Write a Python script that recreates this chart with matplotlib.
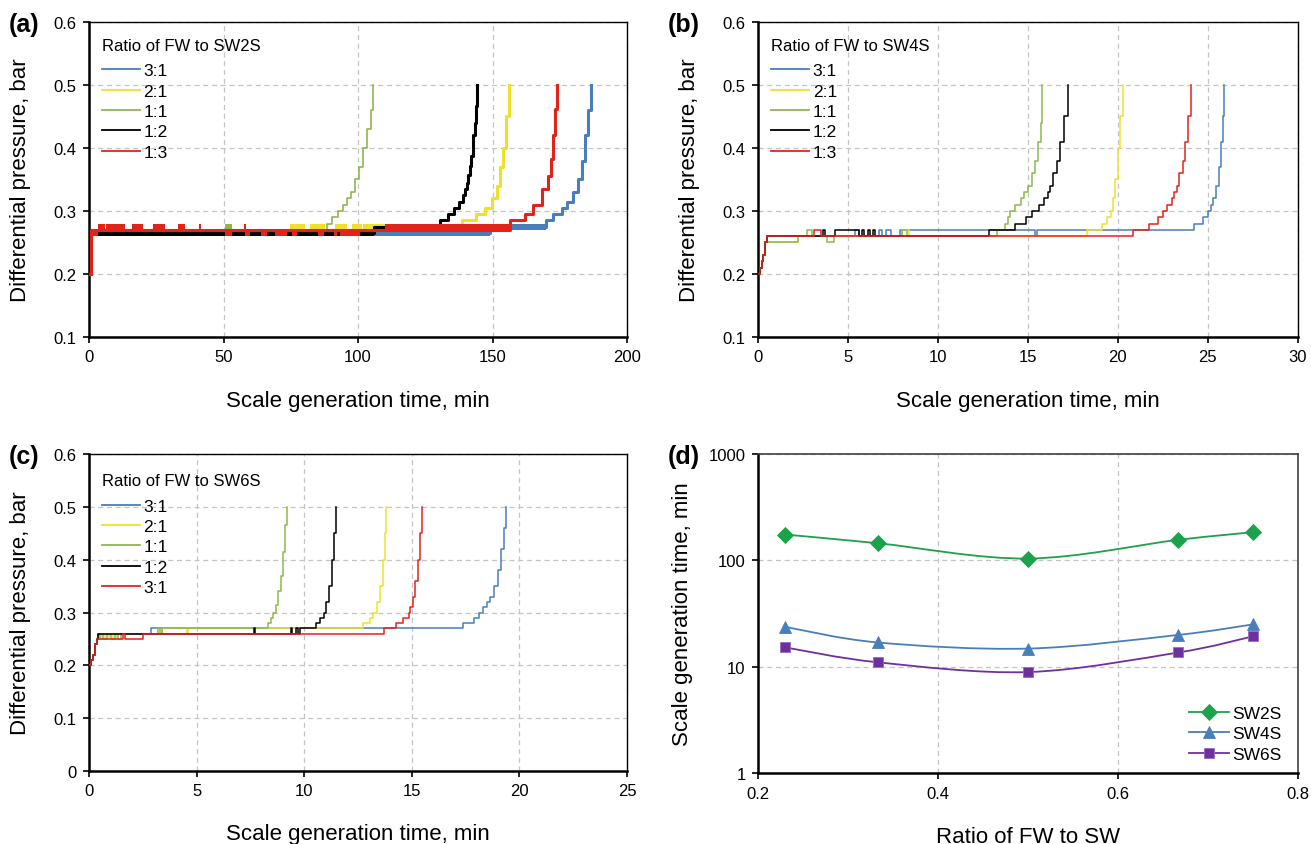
import numpy as np
import matplotlib
matplotlib.use('Agg')
import matplotlib.pyplot as plt
from matplotlib.lines import Line2D
from matplotlib.path import Path
from matplotlib.patches import PathPatch
from matplotlib.ticker import FuncFormatter, NullLocator

plt.rcParams['font.family'] = ['Liberation Sans', 'DejaVu Sans']

# ---- panel (a): FW : SW2S, time in min, pressure in bar ----
a_t_31 = [0, 0.8, 149, 170, 172.5, 175.8, 177.7, 180.0, 181.8, 183.1, 184.4, 185.4, 186.5]
a_p_31 = [0.2, 0.265, 0.275, 0.285, 0.295, 0.305, 0.315, 0.33, 0.35, 0.38, 0.42, 0.46, 0.50]
a_t_21 = [0, 0.8, 74, 138.5, 144.0, 147.2, 149.7, 151.5, 152.8, 154.0, 155.0, 156.2]
a_p_21 = [0.2, 0.265, 0.27, 0.285, 0.295, 0.305, 0.32, 0.34, 0.37, 0.40, 0.45, 0.50]
a_t_11 = [0, 0.8, 88.5, 90.5, 92.5, 94.5, 96.0, 97.5, 99.0, 100.5, 102.0, 103.5, 104.7, 105.6]
a_p_11 = [0.2, 0.265, 0.28, 0.29, 0.30, 0.31, 0.32, 0.33, 0.35, 0.37, 0.40, 0.43, 0.46, 0.50]
a_t_12 = [0, 0.8, 106, 130.5, 133.6, 135.7, 137.7, 138.9, 139.8, 140.4, 141.0, 141.6, 142.1,
          142.6, 142.9, 143.4, 143.9, 144.3]
a_p_12 = [0.2, 0.265, 0.275, 0.285, 0.295, 0.305, 0.315, 0.325, 0.335, 0.345, 0.357, 0.372,
          0.387, 0.404, 0.42, 0.44, 0.467, 0.50]
a_t_13 = [0, 0.8, 156.5, 162.0, 165.0, 168.3, 170.7, 171.6, 172.4, 173.2, 174.1]
a_p_13 = [0.2, 0.27, 0.285, 0.295, 0.31, 0.335, 0.356, 0.383, 0.42, 0.462, 0.50]

# flicker bands on the plateau (start, end) between 0.26-0.27 (lo) and 0.27-0.28 (hi)
a_band_31_lo = [(60, 149)]
a_band_31_hi = [(149, 170)]
a_band_21_hi = [(74.7, 80.3), (82.2, 87.7), (91.4, 96.0), (97.8, 101.5), (102.0, 110.0)]
a_band_11_hi = [(50.5, 53.0)]
a_band_12_lo = [(0.8, 106)]
a_band_13_hi = [(3.3, 6.0), (6.3, 13.4), (16.0, 20.0), (23.8, 28.2), (33.0, 35.7),
                (41.0, 41.8), (57.6, 58.4), (110, 156.5)]
a_band_13_lo = [(0.8, 3.4), (50.5, 53.0), (58.0, 60.0), (64.0, 66.0), (69.0, 73.5),
                (75.4, 77.3), (85.3, 87.2), (90.9, 92.2), (93.4, 100.8)]

# ---- panel (b): FW : SW4S ----
b_t_31 = [0, 0.1, 0.2, 0.3, 0.4, 0.5, 5.4, 5.6, 6.7, 6.9, 7.1, 7.4, 7.9, 15.4, 15.5,
          24.2, 24.7, 25.0, 25.15, 25.3, 25.45, 25.6, 25.72, 25.82, 25.92]
b_p_31 = [0.2, 0.21, 0.22, 0.23, 0.25, 0.26, 0.27, 0.26, 0.27, 0.26, 0.27, 0.26, 0.27, 0.26, 0.27,
          0.28, 0.29, 0.30, 0.31, 0.32, 0.34, 0.37, 0.41, 0.45, 0.50]
b_t_21 = [0, 0.1, 0.2, 0.3, 0.4, 2.2, 8.0, 8.4, 18.3, 19.1, 19.4, 19.6, 19.75, 19.85, 19.98,
          20.1, 20.3]
b_p_21 = [0.2, 0.21, 0.22, 0.23, 0.25, 0.26, 0.27, 0.26, 0.27, 0.28, 0.29, 0.30, 0.32, 0.35, 0.40,
          0.45, 0.50]
b_t_11 = [0, 0.1, 0.2, 0.3, 0.4, 2.2, 2.7, 3.0, 3.85, 4.2, 8.0, 8.3, 13.3, 13.7, 13.9, 14.0,
          14.3, 14.6, 14.8, 15.0, 15.2, 15.4, 15.55, 15.7, 15.8]
b_p_11 = [0.2, 0.21, 0.22, 0.23, 0.25, 0.26, 0.27, 0.26, 0.25, 0.26, 0.27, 0.26, 0.27, 0.28, 0.29,
          0.30, 0.31, 0.32, 0.33, 0.34, 0.36, 0.38, 0.41, 0.44, 0.50]
b_t_12 = [0, 0.1, 0.2, 0.3, 0.4, 0.5, 3.6, 3.7, 4.25, 5.6, 5.8, 5.9, 6.1, 6.2, 6.4, 6.5, 12.85,
          14.3, 14.9, 15.2, 15.6, 15.9, 16.1, 16.25, 16.4, 16.6, 16.8, 17.0, 17.25]
b_p_12 = [0.2, 0.21, 0.22, 0.23, 0.25, 0.26, 0.27, 0.26, 0.27, 0.26, 0.27, 0.26, 0.27, 0.26, 0.27,
          0.26, 0.27, 0.28, 0.29, 0.30, 0.31, 0.32, 0.33, 0.34, 0.36, 0.38, 0.41, 0.45, 0.50]
b_t_13 = [0, 0.1, 0.2, 0.3, 0.4, 0.5, 3.1, 3.5, 20.85, 21.7, 22.2, 22.5, 22.7, 23.0, 23.1,
          23.3, 23.4, 23.6, 23.7, 23.9, 24.05]
b_p_13 = [0.2, 0.21, 0.22, 0.23, 0.25, 0.26, 0.27, 0.26, 0.27, 0.28, 0.29, 0.30, 0.31, 0.32, 0.33,
          0.34, 0.36, 0.38, 0.41, 0.45, 0.50]

# ---- panel (c): FW : SW6S ----
c_t_31 = [0, 0.1, 0.2, 0.3, 0.38, 0.42, 2.9, 17.4, 17.9, 18.1, 18.3, 18.5, 18.65, 18.8, 19.0,
          19.15, 19.28, 19.37]
c_p_31 = [0.2, 0.21, 0.22, 0.24, 0.25, 0.26, 0.27, 0.28, 0.29, 0.30, 0.31, 0.32, 0.33, 0.35, 0.38,
          0.42, 0.46, 0.50]
c_t_21 = [0, 0.1, 0.2, 0.3, 0.38, 0.6, 0.75, 0.95, 1.1, 1.3, 3.4, 4.55, 4.6, 12.75, 13.05,
          13.2, 13.38, 13.5, 13.65, 13.73, 13.82]
c_p_21 = [0.2, 0.21, 0.22, 0.24, 0.25, 0.26, 0.25, 0.26, 0.25, 0.26, 0.27, 0.26, 0.27, 0.28, 0.29,
          0.30, 0.32, 0.35, 0.40, 0.45, 0.50]
c_t_11 = [0, 0.1, 0.2, 0.3, 0.38, 0.5, 0.65, 0.85, 1.0, 1.2, 1.35, 1.5, 3.2, 3.3, 3.4, 8.3,
          8.45, 8.57, 8.67, 8.8, 8.9, 9.0, 9.1, 9.18]
c_p_11 = [0.2, 0.21, 0.22, 0.24, 0.25, 0.26, 0.25, 0.26, 0.25, 0.26, 0.25, 0.26, 0.27, 0.26, 0.27,
          0.28, 0.29, 0.30, 0.315, 0.34, 0.37, 0.415, 0.465, 0.50]
c_t_12 = [0, 0.1, 0.2, 0.3, 0.38, 0.42, 7.66, 7.7, 9.37, 9.45, 9.6, 9.7, 9.8, 10.53, 10.73,
          10.9, 11.03, 11.16, 11.28, 11.38, 11.48]
c_p_12 = [0.2, 0.21, 0.22, 0.24, 0.25, 0.26, 0.27, 0.26, 0.27, 0.26, 0.27, 0.26, 0.27, 0.28, 0.29,
          0.30, 0.32, 0.35, 0.40, 0.45, 0.50]
c_t_13 = [0, 0.1, 0.2, 0.3, 0.38, 1.6, 1.65, 2.5, 13.7, 14.26, 14.6, 14.85, 14.93, 15.06, 15.17,
          15.3, 15.37, 15.47]
c_p_13 = [0.2, 0.21, 0.22, 0.24, 0.25, 0.26, 0.25, 0.26, 0.27, 0.28, 0.29, 0.30, 0.31, 0.33, 0.36,
          0.40, 0.45, 0.50]

# ---- panel (d): scale generation time vs ratio ----
d_ratio = [0.23, 0.333, 0.5, 0.667, 0.75]
d_sw2s = [175, 145, 104, 156, 184]
d_sw4s = [23.7, 16.9, 14.8, 19.9, 25.0]
d_sw6s = [15.2, 11.0, 8.9, 13.6, 19.3]

labels_abc = ['3:1', '2:1', '1:1', '1:2', '1:3']
labels_c = ['3:1', '2:1', '1:1', '1:2', '3:1']
col_blue = '#4a7ebb'
col_yellow = '#efe12a'
col_green = '#8db84e'
col_black = '#000000'
col_red = '#e2231a'
line_cols = [col_blue, col_yellow, col_green, col_black, col_red]

fmt = FuncFormatter(lambda v, _: f'{round(v, 3):g}')


def style_axes(ax, xlim, xticks, ylim, yticks):
    ax.set_xlim(xlim)
    ax.set_ylim(ylim)
    ax.set_xticks(xticks)
    ax.set_yticks(yticks)
    ax.xaxis.set_major_formatter(fmt)
    ax.yaxis.set_major_formatter(fmt)
    ax.grid(True, color='#c4c4c4', ls=(0, (4, 3)), lw=0.9)
    ax.set_axisbelow(True)
    for s in ['left', 'bottom']:
        ax.spines[s].set_linewidth(1.8)
    for s in ['top', 'right']:
        ax.spines[s].set_linewidth(1.0)
    ax.tick_params(direction='out', length=4, width=1.2, labelsize=12, pad=5)


def step_legend(ax, title, labels, top):
    handles = [Line2D([], [], color=c, lw=1.3) for c in line_cols]
    leg = ax.legend(handles, labels, title=title, loc='upper left', bbox_to_anchor=(0.024, top),
                    frameon=False, fontsize=12.5, title_fontsize=12, handlelength=2.2,
                    handletextpad=0.2, labelspacing=0.3, borderaxespad=0, borderpad=0,
                    alignment='left')
    # a bit more room between the title and the first entry
    leg._legend_box.sep = 7.5


def add_bands(ax, bands, level, color, z):
    ax.broken_barh([(s, e - s) for s, e in bands], (level, 0.01), facecolors=color,
                   edgecolor='none', zorder=z)


fig = plt.figure(figsize=(13.11, 8.45), dpi=100)
ax_a = fig.add_axes([0.0679, 0.600, 0.4104, 0.3728])
ax_b = fig.add_axes([0.5782, 0.600, 0.4118, 0.3728])
ax_c = fig.add_axes([0.0679, 0.0864, 0.4104, 0.3751])
ax_d = fig.add_axes([0.5782, 0.0840, 0.4118, 0.3775])

# (a)
a_series = [(a_t_31, a_p_31, 2.2), (a_t_21, a_p_21, 2.2), (a_t_11, a_p_11, 1.2),
            (a_t_12, a_p_12, 2.2), (a_t_13, a_p_13, 2.2)]
for i, (t, p, w) in enumerate(a_series):
    ax_a.plot(t, p, drawstyle='steps-post', color=line_cols[i], lw=w, zorder=2 + i)
add_bands(ax_a, a_band_31_lo, 0.26, col_blue, 2)
add_bands(ax_a, a_band_31_hi, 0.27, col_blue, 2)
add_bands(ax_a, a_band_21_hi, 0.27, col_yellow, 3)
add_bands(ax_a, a_band_11_hi, 0.27, col_green, 4)
add_bands(ax_a, a_band_12_lo, 0.26, col_black, 5)
add_bands(ax_a, a_band_13_hi, 0.27, col_red, 6)
add_bands(ax_a, a_band_13_lo, 0.26, col_red, 6)
style_axes(ax_a, (0, 200), np.arange(0, 201, 50), (0.1, 0.6), np.arange(0.1, 0.61, 0.1))
step_legend(ax_a, 'Ratio of FW to SW2S', labels_abc, 0.95)

# (b)
b_series = [(b_t_31, b_p_31), (b_t_21, b_p_21), (b_t_11, b_p_11), (b_t_12, b_p_12), (b_t_13, b_p_13)]
for i, (t, p) in enumerate(b_series):
    ax_b.plot(t, p, drawstyle='steps-post', color=line_cols[i], lw=1.1, zorder=2 + i)
style_axes(ax_b, (0, 30), np.arange(0, 31, 5), (0.1, 0.6), np.arange(0.1, 0.61, 0.1))
step_legend(ax_b, 'Ratio of FW to SW4S', labels_abc, 0.95)

# (c)
c_series = [(c_t_31, c_p_31), (c_t_21, c_p_21), (c_t_11, c_p_11), (c_t_12, c_p_12), (c_t_13, c_p_13)]
for i, (t, p) in enumerate(c_series):
    ax_c.plot(t, p, drawstyle='steps-post', color=line_cols[i], lw=1.1, zorder=2 + i)
style_axes(ax_c, (0, 25), np.arange(0, 26, 5), (0, 0.6), np.arange(0, 0.61, 0.1))
step_legend(ax_c, 'Ratio of FW to SW6S', labels_c, 0.94)

for ax in (ax_a, ax_b, ax_c):
    ax.set_xlabel('Scale generation time, min', fontsize=16, labelpad=18)
    ax.set_ylabel('Differential pressure, bar', fontsize=16)
    ax.yaxis.set_label_coords(-0.108, 0.5)


# (d) smoothed lines as Bezier paths through the points (in log space)
def smooth_path(x, y):
    px = np.asarray(x, float)
    py = np.log10(np.asarray(y, float))
    n = len(px)
    verts = [(px[0], py[0])]
    codes = [Path.MOVETO]
    for i in range(n - 1):
        i0 = max(i - 1, 0)
        i3 = min(i + 2, n - 1)
        c1 = (px[i] + (px[i + 1] - px[i0]) / 6, py[i] + (py[i + 1] - py[i0]) / 6)
        c2 = (px[i + 1] - (px[i3] - px[i]) / 6, py[i + 1] - (py[i3] - py[i]) / 6)
        verts += [c1, c2, (px[i + 1], py[i + 1])]
        codes += [Path.CURVE4] * 3
    return Path([(vx, 10 ** vy) for vx, vy in verts], codes)


ax_d.set_yscale('log')
d_series = [(d_sw2s, '#1ba24a', '#1ba24a', 'D', 8, 'SW2S'),
            (d_sw4s, '#4a7ebb', '#4a7ebb', '^', 8.5, 'SW4S'),
            (d_sw6s, '#6f2f9f', '#9a6cc0', 's', 7.5, 'SW6S')]
d_handles = []
for vals, c, ec, m, ms, lab in d_series:
    ax_d.add_patch(PathPatch(smooth_path(d_ratio, vals), fc='none', ec=c, lw=1.3, zorder=3))
    ax_d.plot(d_ratio, vals, ls='none', marker=m, ms=ms, color=c, mec=ec, mew=0.6, zorder=4)
    d_handles.append(Line2D([], [], color=c, lw=1.3, marker=m, ms=ms, mec=ec, mew=0.6))
ax_d.set_xlim(0.2, 0.8)
ax_d.set_ylim(1, 1000)
ax_d.set_xticks([0.2, 0.4, 0.6, 0.8])
ax_d.set_yticks([1, 10, 100, 1000])
ax_d.yaxis.set_minor_locator(NullLocator())
ax_d.xaxis.set_major_formatter(fmt)
ax_d.yaxis.set_major_formatter(fmt)
ax_d.grid(True, color='#c4c4c4', ls=(0, (4, 3)), lw=0.9)
ax_d.set_axisbelow(True)
for s in ['left', 'bottom']:
    ax_d.spines[s].set_linewidth(1.8)
for s in ['top', 'right']:
    ax_d.spines[s].set_linewidth(1.2)
    ax_d.spines[s].set_color('#404040')
ax_d.tick_params(direction='out', length=4, width=1.2, labelsize=12, pad=5)
ax_d.set_xlabel('Ratio of FW to SW', fontsize=16, labelpad=18)
ax_d.set_ylabel('Scale generation time, min', fontsize=16)
ax_d.yaxis.set_label_coords(-0.12, 0.5)
ax_d.legend(d_handles, ['SW2S', 'SW4S', 'SW6S'], loc='lower right', bbox_to_anchor=(0.97, 0.035),
            frameon=False, fontsize=12.5, handlelength=2.3, handletextpad=0.2, labelspacing=0.3,
            borderaxespad=0, borderpad=0)

for x, y, s in [(0.007, 0.970, '(a)'), (0.509, 0.970, '(b)'), (0.007, 0.459, '(c)'), (0.509, 0.459, '(d)')]:
    fig.text(x, y, s, fontsize=18, fontweight='bold', va='center', ha='left')

fig.savefig('out.png', dpi=100)
